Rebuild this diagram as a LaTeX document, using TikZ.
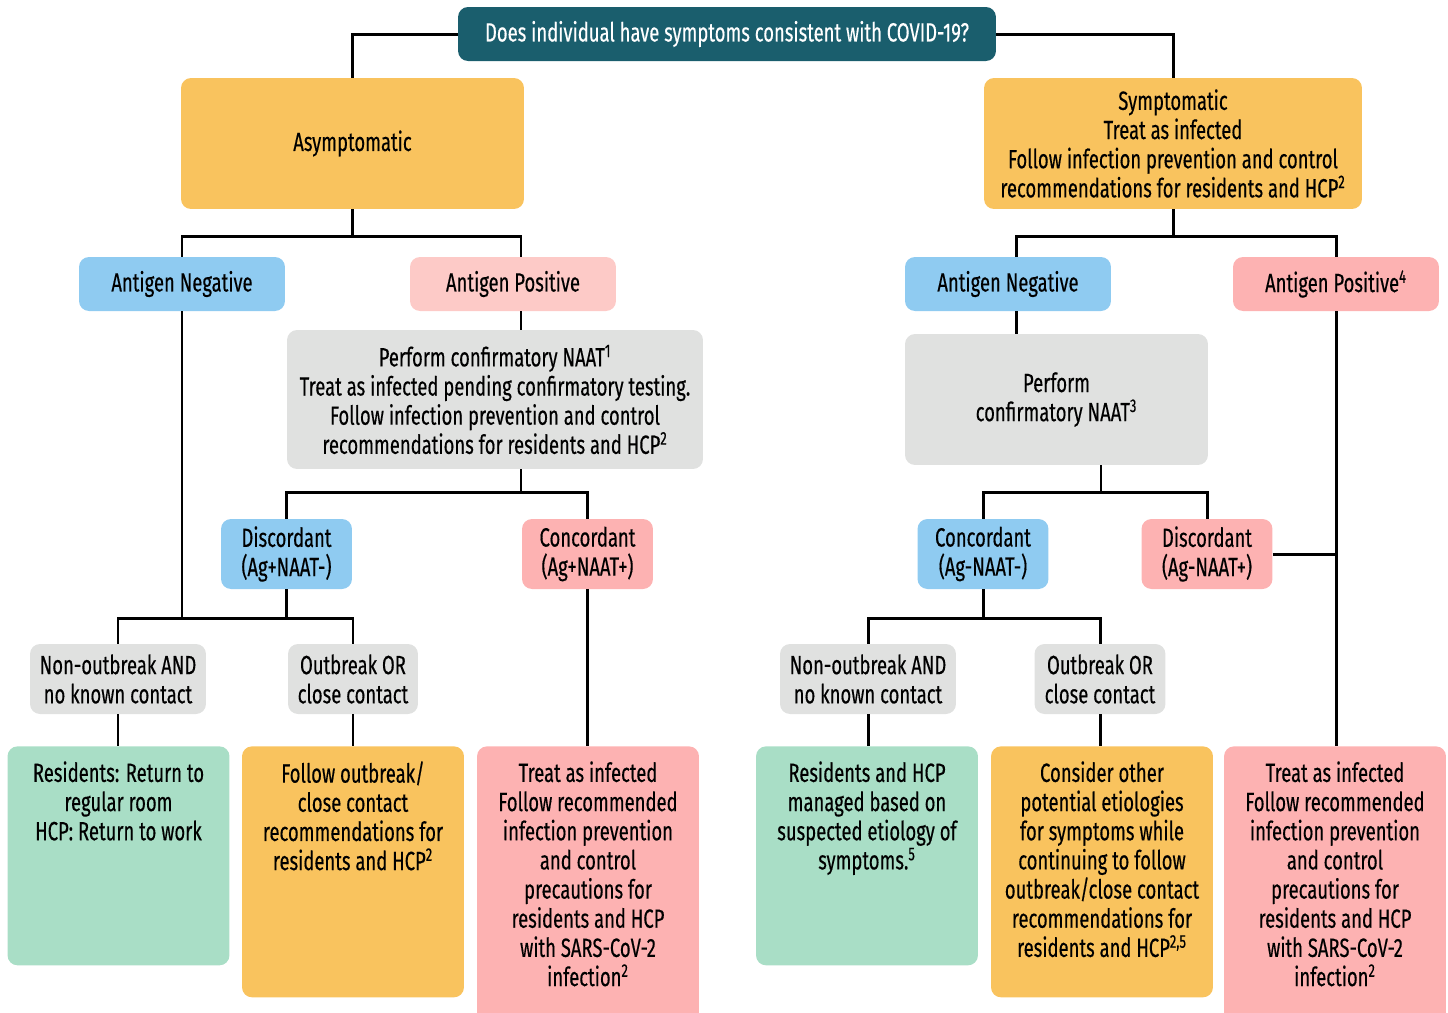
\documentclass[tikz,border=0pt]{standalone}
\usepackage{fontspec}
\setmainfont{Fira Sans}[FakeStretch=0.7, FakeBold=0.35]
\usepackage{tikz}
\usetikzlibrary{positioning,calc}

\definecolor{qteal}{HTML}{1A5E6D}
\definecolor{qorange}{HTML}{F9C35E}
\definecolor{qblue}{HTML}{8FCBF1}
\definecolor{qrose}{HTML}{FDCAC7}
\definecolor{qpink}{HTML}{FDB2B2}
\definecolor{qgray}{HTML}{E0E1E0}
\definecolor{qgreen}{HTML}{A9DEC6}

\newcommand{\topbox}[2]{\parbox[t][#1][t]{4.3cm}{\centering #2}}

\tikzset{
  box/.style={rounded corners=0.2cm, align=center, inner sep=0pt, text=black,
    font=\fontsize{15}{16.6}\selectfont},
  tagbox/.style={box, minimum width=4.12cm, minimum height=1.08cm},
  pairbox/.style={box, minimum width=2.62cm, minimum height=1.4cm},
  casebox/.style={box, minimum height=1.4cm},
  endbox/.style={box, anchor=north, minimum width=4.44cm, inner ysep=0.3cm},
  link/.style={line width=1.7pt}
}

\begin{document}
\begin{tikzpicture}[x=0.02cm, y=-0.02cm]
  \useasboundingbox (0,0) rectangle (1448,1012);

  % question
  \node[box, fill=qteal, text=white, minimum width=10.76cm, minimum height=1.08cm] (q) at (727,34)
    {Does individual have symptoms consistent with COVID-19?};

  % asymptomatic side
  \node[box, fill=qorange, minimum width=6.86cm, minimum height=2.62cm] (asym) at (352.5,143.5) {Asymptomatic};
  \node[tagbox, fill=qblue] (anl) at (182,284) {Antigen Negative};
  \node[tagbox, fill=qrose] (apl) at (513,284) {Antigen Positive};
  \node[box, fill=qgray, minimum width=8.32cm, minimum height=2.78cm] (naatl) at (495,399.5)
    {Perform confirmatory NAAT\textsuperscript{1}\\Treat as infected pending confirmatory testing.\\
     Follow infection prevention and control\\recommendations for residents and HCP\textsuperscript{2}};
  \node[pairbox, fill=qblue] (discl) at (286.5,554) {Discordant\\(Ag+NAAT-)};
  \node[pairbox, fill=qpink] (concl) at (587.5,554) {Concordant\\(Ag+NAAT+)};
  \node[casebox, fill=qgray, minimum width=3.52cm] (nonl) at (118,679) {Non-outbreak AND\\no known contact};
  \node[casebox, fill=qgray, minimum width=2.6cm] (outl) at (353,679) {Outbreak OR\\close contact};
  \node[endbox, fill=qgreen] (gl) at (118.5,746)
    {\topbox{3.78cm}{Residents: Return to\\regular room\\HCP: Return to work}};
  \node[endbox, fill=qorange] (ol) at (353,746)
    {\topbox{4.42cm}{Follow outbreak/\\close contact\\recommendations for\\residents and HCP\textsuperscript{2}}};
  \node[endbox, fill=qpink] (rl) at (588,746)
    {\topbox{5.1cm}{Treat as infected\\Follow recommended\\infection prevention\\and control\\precautions for\\residents and HCP\\with SARS-CoV-2\\infection\textsuperscript{2}}};

  % symptomatic side
  \node[box, fill=qorange, minimum width=7.56cm, minimum height=2.62cm] (sym) at (1173,143.5)
    {Symptomatic\\Treat as infected\\Follow infection prevention and control\\recommendations for residents and HCP\textsuperscript{2}};
  \node[tagbox, fill=qblue] (anr) at (1008,284) {Antigen Negative};
  \node[tagbox, fill=qpink] (apr) at (1336,284) {Antigen Positive\textsuperscript{4}};
  \node[box, fill=qgray, minimum width=6.06cm, minimum height=2.62cm] (naatr) at (1056.5,399.5)
    {Perform\\confirmatory NAAT\textsuperscript{3}};
  \node[pairbox, fill=qblue] (concr) at (983,554) {Concordant\\(Ag-NAAT-)};
  \node[pairbox, fill=qpink] (discr) at (1207,554) {Discordant\\(Ag-NAAT+)};
  \node[casebox, fill=qgray, minimum width=3.52cm] (nonr) at (868,679) {Non-outbreak AND\\no known contact};
  \node[casebox, fill=qgray, minimum width=2.62cm] (outr) at (1100,679) {Outbreak OR\\close contact};
  \node[endbox, fill=qgreen] (gr) at (867,746)
    {\topbox{3.78cm}{Residents and HCP\\managed based on\\suspected etiology of\\symptoms.\textsuperscript{5}}};
  \node[endbox, fill=qorange] (or) at (1102,746)
    {\topbox{4.42cm}{Consider other\\potential etiologies\\for symptoms while\\continuing to follow\\outbreak/close contact\\recommendations for\\residents and HCP\textsuperscript{2,5}}};
  \node[endbox, fill=qpink] (rr) at (1335,746)
    {\topbox{5.1cm}{Treat as infected\\Follow recommended\\infection prevention\\and control\\precautions for\\residents and HCP\\with SARS-CoV-2\\infection\textsuperscript{2}}};

  % connectors, top
  \draw[link] (q.west) -| (asym.north);
  \draw[link] (q.east) -| (sym.north);

  % connectors, left
  \draw[link] (asym.south) -- ++(0,27) coordinate (ja);
  \draw[link] (anl.north) |- (ja) -| ([xshift=0.16cm]apl.north);
  \draw[link] ([xshift=0.16cm]apl.south) -- ([xshift=0.16cm]apl.south |- naatl.north);
  \draw[link] ([xshift=0.52cm]naatl.south) -- ++(0,23) coordinate (jb);
  \draw[link] (discl.north) |- (jb) -| (concl.north);
  \draw[link] (discl.south) -- ++(0,29) coordinate (jc);
  \draw[link] (anl.south) -- (anl.south |- jc);
  \draw[link] (nonl.north) |- (jc) -| (outl.north);
  \draw[link] (nonl.south) -- (nonl.south |- gl.north);
  \draw[link] (outl.south) -- (outl.south |- ol.north);
  \draw[link] (concl.south) -- (concl.south |- rl.north);

  % connectors, right
  \draw[link] (sym.south) -- ++(0,27) coordinate (jd);
  \draw[link] ([xshift=0.16cm]anr.north) |- (jd) -| (apr.north);
  \draw[link] ([xshift=0.16cm]anr.south) -- ([xshift=0.16cm]anr.south |- naatr.north);
  \draw[link] ([xshift=0.89cm]naatr.south) -- ++(0,27) coordinate (je);
  \draw[link] (concr.north) |- (je) -| (discr.north);
  \draw[link] (concr.south) -- ++(0,29) coordinate (jf);
  \draw[link] (nonr.north) |- (jf) -| (outr.north);
  \draw[link] (nonr.south) -- (nonr.south |- gr.north);
  \draw[link] (outr.south) -- (outr.south |- or.north);
  \draw[link] (apr.south) -- (apr.south |- rr.north);
  \draw[link] (discr.east) -- (discr.east -| apr.south);
\end{tikzpicture}
\end{document}
